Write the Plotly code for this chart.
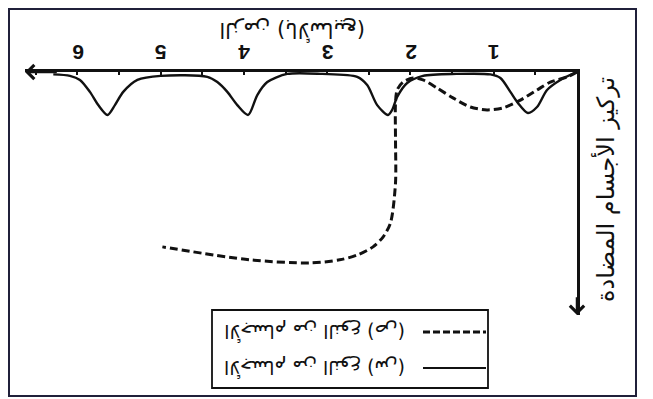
import plotly.graph_objects as go

# values read off the (upside-down) scanned figure
# x: time in weeks, y: antibody concentration (arbitrary units, 0 at the axis)
solid_weeks = [0, 0.20, 0.36, 0.48, 0.59, 0.71, 0.80, 0.92, 1.04, 1.45, 1.85, 2.04, 2.16, 2.22, 2.27,
               2.40, 2.52, 2.64, 3.06, 3.48, 3.72, 3.84, 3.95, 4.08, 4.20, 4.32, 4.44, 5.00,
               5.28, 5.45, 5.55, 5.64, 5.75, 5.85, 5.97, 6.09, 6.29]
solid_conc = [0, 3.3, 7.5, 14.6, 17.1, 12.9, 8.3, 2.5, 1.0, 0.8, 1.6, 4.6, 10.4, 15.8, 17.9,
              13.8, 5.4, 2.0, 0.8, 0.8, 4.2, 9.6, 17.9, 13.8, 8.3, 4.2, 2.0, 1.6,
              3.3, 8.3, 13.8, 17.9, 13.8, 8.3, 3.3, 1.6, 1.0]

dashed_weeks = [0, 0.12, 0.32, 0.48, 0.68, 0.89, 1.08, 1.28, 1.49, 1.68, 1.85, 1.97, 2.09, 2.16,
                2.18, 2.18, 2.18, 2.24, 2.33, 2.45, 2.64, 2.85, 3.21, 3.93, 4.98]
dashed_conc = [0, 2.1, 4.2, 7.5, 11.7, 15.0, 15.8, 14.6, 10.8, 6.7, 3.3, 2.5, 4.2, 7.5,
               12.9, 28.3, 46.3, 62.9, 68.8, 72.9, 76.3, 78.3, 79.6, 78.3, 72.9]

tick_weeks = [1, 2, 3, 4, 5, 6]
tick_labels = ["1", "2", "3", "4", "5", "6"]

x_title = "الزمن (بالأسابيع)"
y_title = "تركيز الأجسام المضادة"
legend_dashed = "الأجسام من النوع (ص)"
legend_solid = "الأجسام من النوع (س)"

X_END = 6.63
Y_END = 101.3
INK = "#111111"
AR = "DejaVu Sans"
PAGE = 8  # the page body adds an 8px margin around the plot

fig = go.Figure()
fig.add_trace(go.Scatter(x=solid_weeks, y=solid_conc, mode="lines",
                         line=dict(color=INK, width=2.4, shape="spline", smoothing=0.8),
                         showlegend=False))
fig.add_trace(go.Scatter(x=dashed_weeks, y=dashed_conc, mode="lines",
                         line=dict(color=INK, width=3, dash="8px,4px", shape="spline", smoothing=0.8),
                         showlegend=False))

fig.update_xaxes(range=[X_END, 0], side="top", showline=True, linewidth=3, linecolor=INK,
                 showgrid=False, zeroline=False, showticklabels=False,
                 ticks="inside", tick0=0, dtick=0.5, ticklen=3, tickwidth=1.5, tickcolor=INK)
fig.update_yaxes(range=[Y_END, 0], side="right", showline=True, linewidth=2.5, linecolor=INK,
                 showgrid=False, zeroline=False, showticklabels=False, ticks="")

# arrowheads at the ends of both axes
fig.add_annotation(x=X_END, y=0, ax=X_END - 0.4, ay=0, axref="x", ayref="y", text="",
                   showarrow=True, arrowhead=4, arrowsize=1.1, arrowwidth=2.5, arrowcolor=INK, standoff=0)
fig.add_annotation(x=0, y=Y_END, ax=0, ay=Y_END - 8, axref="x", ayref="y", text="",
                   showarrow=True, arrowhead=4, arrowsize=1.1, arrowwidth=2.5, arrowcolor=INK, standoff=0)


# screen pixel -> paper coords (plot area spans x 25..577, y 72..315 on screen)
def px_x(p):
    return (p - 25) / 552


def px_y(p):
    return 1 - (p - 72) / 243


def label(txt, x, y, size, angle, xref="paper", family=AR):
    fig.add_annotation(x=x, y=y, xref=xref, yref="paper", text=txt, showarrow=False,
                       textangle=angle, xanchor="center", yanchor="middle",
                       font=dict(family=family, size=size, color=INK))


# upside-down tick labels
for w, lab in zip(tick_weeks, tick_labels):
    label("<b>" + lab + "</b>", w, px_y(53), 21, 180, xref="x", family="Liberation Sans")

label(x_title, px_x(292), px_y(31), 21, 180)
label(y_title, px_x(605), px_y(190), 24, -90)

# legend box, drawn by hand (text is upside down, samples on the right)
fig.add_shape(type="rect", xref="paper", yref="paper", x0=px_x(212), x1=px_x(488),
              y0=px_y(388), y1=px_y(310), line=dict(color=INK, width=1.8))
fig.add_shape(type="line", xref="paper", yref="paper", x0=px_x(423), x1=px_x(486),
              y0=px_y(332), y1=px_y(332), line=dict(color=INK, width=3, dash="7px,3px"))
fig.add_shape(type="line", xref="paper", yref="paper", x0=px_x(423), x1=px_x(486),
              y0=px_y(368), y1=px_y(368), line=dict(color=INK, width=2))
label(legend_dashed, px_x(315), px_y(332), 19, 180)
label(legend_solid, px_x(315), px_y(368), 19, 180)

# outer frame
fig.add_shape(type="rect", xref="paper", yref="paper", x0=px_x(9), x1=px_x(636),
              y0=px_y(396), y1=px_y(9), line=dict(color="#20203a", width=2))

fig.update_layout(width=653 - PAGE, height=399 - PAGE,
                  margin=dict(l=25 - PAGE, r=653 - 577, t=72 - PAGE, b=399 - 315),
                  paper_bgcolor="white", plot_bgcolor="white", showlegend=False)

fig.write_html("out.html")
